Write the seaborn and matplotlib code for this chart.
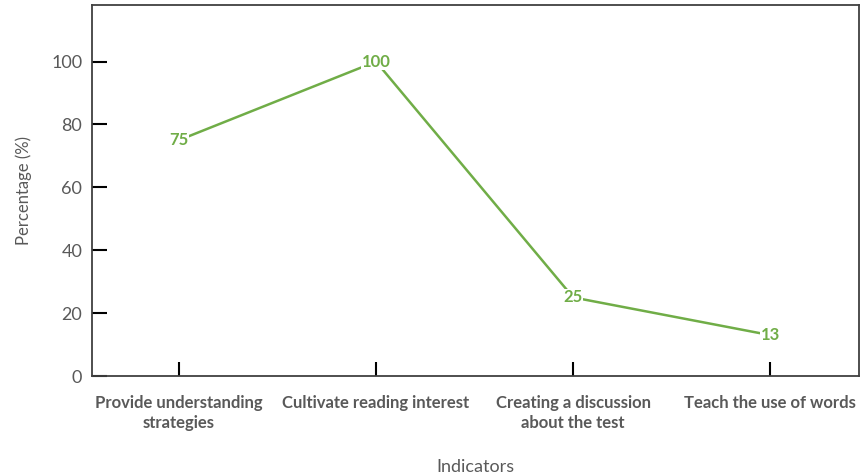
import seaborn as sns
import matplotlib.pyplot as plt

categories = ["Provide understanding\nstrategies", "Cultivate reading interest",
              "Creating a discussion\nabout the test", "Teach the use of words"]
percentages = [75, 100, 25, 13]
y_ticks = [0, 20, 40, 60, 80, 100]

sns.set_theme(style="white")
plt.rcParams['font.family'] = ['Lato', 'DejaVu Sans']

fig = plt.figure(figsize=(8.6, 4.76), dpi=100)
ax = fig.add_axes([0.107, 0.21, 0.892, 0.7795])

green = "#70AD47"
grey = "#595959"
xs = list(range(len(categories)))
sns.lineplot(x=xs, y=percentages, ax=ax, color=green, linewidth=1.8, sort=False)

for x, v in zip(xs, percentages):
    ax.text(x, v, str(v), color=green, fontsize=12, fontweight="bold",
            ha="center", va="center",
            bbox=dict(facecolor="white", edgecolor="none", pad=0.3))

ax.set_xlim(-0.44, 3.45)
ax.set_ylim(0, 118)
ax.set_yticks(y_ticks)
ax.set_xticks(xs, labels=categories, fontweight="bold", fontsize=12, color=grey,
              linespacing=1.3)
ax.tick_params(axis="y", direction="in", length=11, width=1.5, color="black",
               labelsize=13, labelcolor=grey, pad=7, left=True)
ax.tick_params(axis="x", direction="in", length=10, width=1.5, color="black",
               pad=14, bottom=True)

for s in ax.spines.values():
    s.set_color("#404040")
    s.set_linewidth(1.3)

ax.set_xlabel("Indicators", fontsize=13, color=grey, labelpad=20)
ax.set_ylabel("Percentage (%)", fontsize=12, color=grey, labelpad=14)

plt.savefig("out.png", dpi=100)
